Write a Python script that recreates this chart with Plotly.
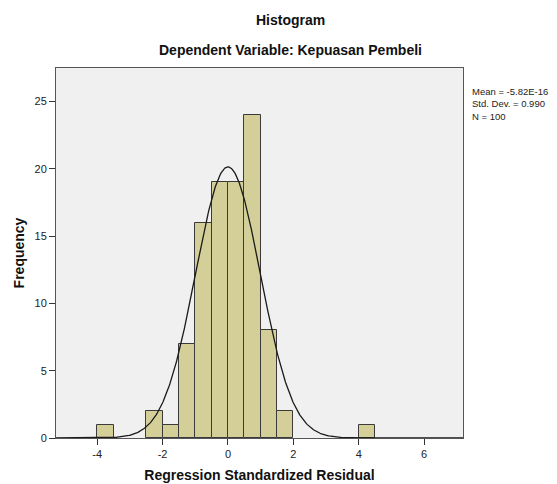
import numpy as np
import plotly.graph_objects as go

bin_starts = [-4.0, -2.5, -2.0, -1.5, -1.0, -0.5, 0.0, 0.5, 1.0, 1.5, 4.0]
counts = [1, 2, 1, 7, 16, 19, 19, 24, 8, 2, 1]
bin_width = 0.5
mean_val = -5.82e-16
std_val = 0.990
n_val = 100
x_ticks = [-4, -2, 0, 2, 4, 6]
y_ticks = [0, 5, 10, 15, 20, 25]

centers = [b + bin_width / 2 for b in bin_starts]

xs = np.linspace(-5.3, 7.2, 600)
ys = n_val * bin_width * np.exp(-0.5 * ((xs - mean_val) / std_val) ** 2) / (std_val * np.sqrt(2 * np.pi))

fig = go.Figure()
fig.add_trace(go.Bar(
    x=centers, y=counts, width=[bin_width] * len(counts),
    marker=dict(color="#D4CF98", line=dict(color="#3a3a3a", width=1)),
    hoverinfo="x+y", showlegend=False,
))
fig.add_trace(go.Scatter(
    x=xs, y=ys, mode="lines", line=dict(color="#1a1a1a", width=1.3),
    showlegend=False, hoverinfo="skip",
))

font_family = "Liberation Sans, Arial, sans-serif"
fig.update_layout(
    width=557, height=484,
    margin=dict(l=56, r=94, t=68, b=46),
    paper_bgcolor="white", plot_bgcolor="#F0F0F0",
    font=dict(family=font_family, color="#222222", size=11),
    bargap=0,
    xaxis=dict(
        range=[-5.26, 7.19], tickvals=x_ticks, ticktext=[str(v) for v in x_ticks],
        ticks="outside", ticklen=6, tickcolor="#333", showgrid=False, zeroline=False,
        showline=True, linecolor="#555", linewidth=1, mirror=True, automargin=False,
        title=dict(text="<b>Regression Standardized Residual</b>", font=dict(size=14, color="#111"), standoff=10),
    ),
    yaxis=dict(
        range=[0, 27.5], tickvals=y_ticks, ticktext=[str(v) for v in y_ticks],
        ticks="outside", ticklen=6, tickcolor="#333", showgrid=False, zeroline=False,
        showline=True, linecolor="#555", linewidth=1, mirror=True, automargin=False,
        title=dict(text="<b>Frequency</b>", font=dict(size=14, color="#111"), standoff=6),
    ),
    annotations=[
        dict(text="<b>Histogram</b>", xref="paper", yref="paper", x=0.575, y=1.13,
             showarrow=False, font=dict(size=14, color="#111"), xanchor="center", yanchor="middle"),
        dict(text="<b>Dependent Variable: Kepuasan Pembeli</b>", xref="paper", yref="paper", x=0.575, y=1.0486,
             showarrow=False, font=dict(size=14, color="#111"), xanchor="center", yanchor="middle"),
        dict(text="Mean = -5.82E-16<br>Std. Dev. = 0.990<br>N = 100", xref="paper", yref="paper",
             x=1.017, y=0.957, showarrow=False, align="left", xanchor="left", yanchor="top",
             font=dict(size=9.5, color="#222")),
    ],
)

fig.write_html("out.html", config={"displayModeBar": False},
               post_script="document.body.style.margin='0';")
